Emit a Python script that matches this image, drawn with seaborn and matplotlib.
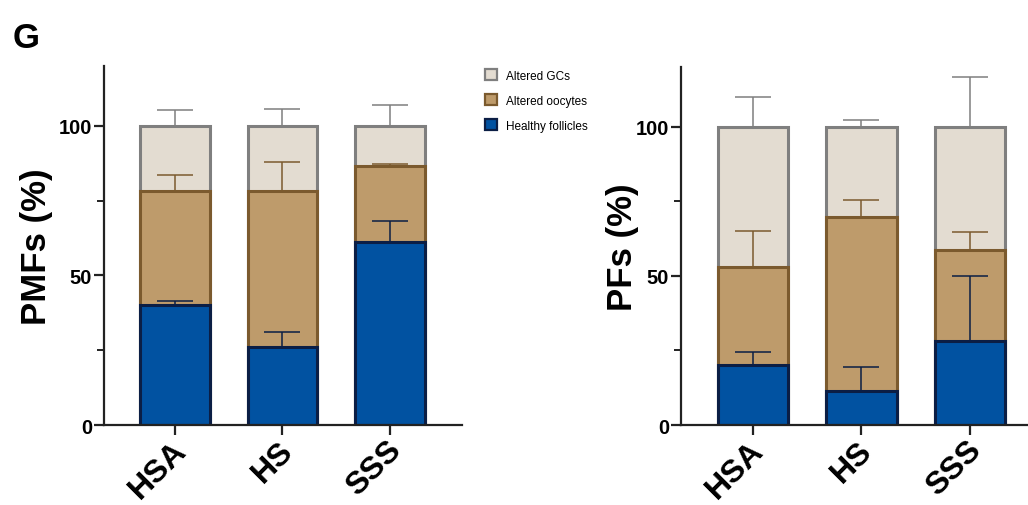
import matplotlib
matplotlib.use("Agg")
import matplotlib.pyplot as plt
from matplotlib.patches import Patch
from matplotlib.ticker import MultipleLocator
from matplotlib.transforms import ScaledTranslation
import numpy as np
import pandas as pd
import seaborn as sns

GROUPS = ["HSA", "HS", "SSS"]
LAYERS = ["Healthy follicles", "Altered oocytes", "Altered GCs"]

# valores en % (media) y error superior (SEM) por capa
PMF_HEALTHY = [40.0, 26.0, 61.2]
PMF_OOCYTES = [38.3, 52.3, 25.4]
PMF_GCS = [21.7, 21.7, 13.4]
PMF_HEALTHY_ERR = [1.6, 5.2, 7.0]
PMF_OOCYTES_ERR = [5.3, 9.6, 0.7]
PMF_GCS_ERR = [5.4, 5.7, 7.0]

PF_HEALTHY = [20.0, 11.5, 28.3]
PF_OOCYTES = [32.9, 58.2, 30.3]
PF_GCS = [47.1, 30.3, 41.4]
PF_HEALTHY_ERR = [4.6, 8.0, 21.8]
PF_OOCYTES_ERR = [12.1, 5.7, 6.0]
PF_GCS_ERR = [10.0, 2.4, 16.5]

FACE = {"Healthy follicles": "#0152A1", "Altered oocytes": "#BE9B6B", "Altered GCs": "#E3DCD1"}
EDGE = {"Healthy follicles": "#0B1E45", "Altered oocytes": "#7B5A2E", "Altered GCs": "#7F7F7F"}

sns.set_style("ticks")
plt.rcParams["font.family"] = ["Liberation Sans", "DejaVu Sans"]
plt.rcParams["text.color"] = "black"
plt.rcParams["axes.labelcolor"] = "black"
plt.rcParams["xtick.labelcolor"] = "black"
plt.rcParams["ytick.labelcolor"] = "black"


def stacked_panel(fig, ax, layers, errs, ylabel, labelpad):
    df = pd.DataFrame({"group": GROUPS})
    cum = np.zeros(len(GROUPS))
    tops = {}
    for name, vals in zip(LAYERS, layers):
        cum = cum + np.array(vals)
        tops[name] = cum.copy()
    # se dibuja de la capa superior a la inferior (barras superpuestas)
    for name in reversed(LAYERS):
        df["top"] = tops[name]
        sns.barplot(data=df, x="group", y="top", order=GROUPS, ax=ax,
                    color=FACE[name], saturation=1, width=0.645,
                    edgecolor=EDGE[name], linewidth=2.2, errorbar=None)
    for name, err in zip(LAYERS, errs):
        ax.errorbar(np.arange(len(GROUPS)), tops[name],
                    yerr=[np.zeros(len(GROUPS)), err], fmt="none",
                    ecolor=EDGE[name], elinewidth=1.1, capsize=13, capthick=1.1,
                    zorder=3)

    ax.set_ylim(0, 120)
    ax.set_xlim(-0.66, 2.67)
    ax.yaxis.set_major_locator(MultipleLocator(50))
    ax.yaxis.set_minor_locator(MultipleLocator(25))
    ax.set_xlabel("")
    ax.set_ylabel(ylabel, fontsize=25, fontweight="bold", labelpad=labelpad)
    sns.despine(ax=ax)
    for side in ["left", "bottom"]:
        ax.spines[side].set_linewidth(1.6)
        ax.spines[side].set_color("#222222")
    ax.tick_params(axis="y", which="major", length=7, width=1.6, labelsize=14.5,
                   color="#222222", pad=1.5)
    ax.tick_params(axis="y", which="minor", length=5, width=1.4, color="#222222")
    ax.tick_params(axis="x", length=7, width=1.6, color="#222222", labelsize=23, pad=3)
    for lbl in ax.get_yticklabels():
        lbl.set_fontweight("bold")
    ax.set_xticks(range(len(GROUPS)))
    ax.set_xticklabels(GROUPS, rotation=45, ha="right", rotation_mode="anchor",
                       fontweight="bold")
    shift = ScaledTranslation(-4 / 100, 4 / 100, fig.dpi_scale_trans)
    for lbl in ax.get_xticklabels():
        lbl.set_transform(lbl.get_transform() + shift)


fig = plt.figure(figsize=(10.28, 5.06), dpi=100)
ax1 = fig.add_axes([0.1012, 0.1581, 0.3482, 0.7095])
ax2 = fig.add_axes([0.6625, 0.1581, 0.3521, 0.7075])

stacked_panel(fig, ax1, [PMF_HEALTHY, PMF_OOCYTES, PMF_GCS],
              [PMF_HEALTHY_ERR, PMF_OOCYTES_ERR, PMF_GCS_ERR], "PMFs (%)", 4)
stacked_panel(fig, ax2, [PF_HEALTHY, PF_OOCYTES, PF_GCS],
              [PF_HEALTHY_ERR, PF_OOCYTES_ERR, PF_GCS_ERR], "PFs (%)", -2)

handles = [Patch(facecolor=FACE[n], edgecolor=EDGE[n], linewidth=1.6, label=n)
           for n in reversed(LAYERS)]
fig.legend(handles=handles, loc="upper left", bbox_to_anchor=(0.461, 0.882),
           frameon=False, fontsize=8.5, handlelength=1.05, handleheight=1.05,
           labelspacing=1.05, handletextpad=0.8)

fig.text(0.012, 0.905, "G", fontsize=25, fontweight="bold")

fig.savefig("out.png", dpi=100)
